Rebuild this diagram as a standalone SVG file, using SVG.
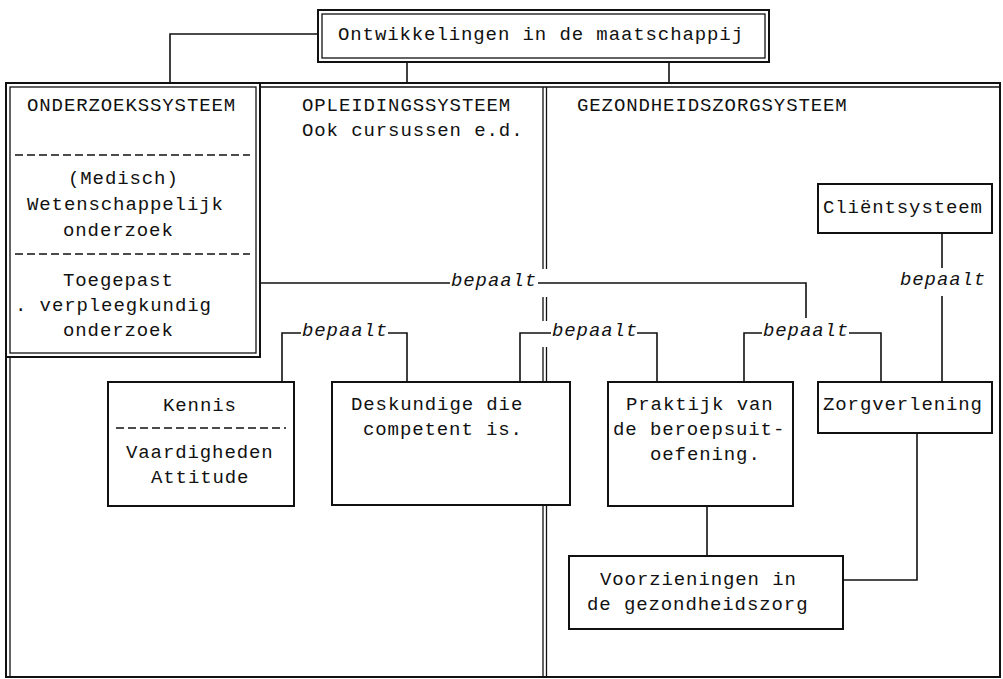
<svg xmlns="http://www.w3.org/2000/svg" width="1003" height="679" viewBox="0 0 1003 679">
<style>
.t{font-family:"Liberation Mono","DejaVu Sans Mono",monospace;font-size:19px;letter-spacing:0.9px;fill:#111}
.i{font-style:italic}
.box{fill:#fff;stroke:#111;stroke-width:2}
.thin{fill:none;stroke:#111;stroke-width:1.3}
.ln{fill:none;stroke:#111;stroke-width:1.6}
.dash{fill:none;stroke:#111;stroke-width:1.3;stroke-dasharray:8 4}
</style>
<rect width="1003" height="679" fill="#fff"/>

<g id="frame">
<rect x="6" y="83" width="994" height="594" class="box" fill="none"/>
<path d="M10 677 V87 H1000" class="thin"/>
</g>

<g id="divider">
<path d="M543 87 V269 M543 297 V321 M543 347 V382 M543 505 V677 M546.5 87 V269 M546.5 297 V321 M546.5 347 V382 M546.5 505 V677" class="thin"/>
</g>

<g id="connectors">
<path d="M318 34 H170 V83" class="ln"/>
<path d="M407 62 V83" class="ln"/>
<path d="M669 62 V83" class="ln"/>
<path d="M261 283 H450 M538 283 H806 V318" class="ln"/>
<path d="M282 382 V333 H301 M388 333 H407 V382" class="ln"/>
<path d="M520 382 V333 H551 M637 333 H657 V382" class="ln"/>
<path d="M744 382 V333 H762 M849 333 H881 V382" class="ln"/>
<path d="M942 233 V268 M942 296 V382" class="ln"/>
<path d="M707 506 V556" class="ln"/>
<path d="M917 433 V580 H843" class="ln"/>
<text class="t i" x="451" y="286">bepaalt</text>
<text class="t i" x="302" y="336">bepaalt</text>
<text class="t i" x="552" y="336">bepaalt</text>
<text class="t i" x="763" y="336">bepaalt</text>
<text class="t i" x="900" y="285">bepaalt</text>
</g>

<g id="title">
<rect x="318" y="10" width="451" height="52" class="box"/>
<rect x="322" y="14" width="443" height="44" class="thin"/>
<text class="t" x="338" y="40">Ontwikkelingen in de maatschappij</text>
</g>

<g id="onderzoekssysteem">
<rect x="6" y="83" width="254" height="274" class="box"/>
<rect x="10" y="87" width="246" height="266" class="thin"/>
<text class="t" x="27" y="111">ONDERZOEKSSYSTEEM</text>
<path d="M15 155 H250" class="dash"/>
<text class="t" x="68" y="184">(Medisch)</text>
<text class="t" x="27" y="210">Wetenschappelijk</text>
<text class="t" x="63" y="236">onderzoek</text>
<path d="M15 254 H250" class="dash"/>
<text class="t" x="63" y="286">Toegepast</text>
<text class="t" x="15" y="311">. verpleegkundig</text>
<text class="t" x="63" y="336">onderzoek</text>
</g>

<g id="opleidingssysteem">
<text class="t" x="302" y="111">OPLEIDINGSSYSTEEM</text>
<text class="t" x="302" y="136">Ook cursussen e.d.</text>
</g>

<g id="gezondheidszorgsysteem">
<text class="t" x="577" y="111">GEZONDHEIDSZORGSYSTEEM</text>
</g>

<g id="clientsysteem">
<rect x="818" y="184" width="174" height="49" class="box"/>
<text class="t" x="823" y="213">Cliëntsysteem</text>
</g>

<g id="kennis">
<rect x="108" y="382" width="186" height="124" class="box"/>
<text class="t" x="163" y="411">Kennis</text>
<path d="M116 428 H286" class="dash"/>
<text class="t" x="126" y="458">Vaardigheden</text>
<text class="t" x="151" y="483">Attitude</text>
</g>

<g id="deskundige">
<rect x="332" y="382" width="238" height="123" class="box"/>
<text class="t" x="351" y="410">Deskundige die</text>
<text class="t" x="363" y="435">competent is.</text>
</g>

<g id="praktijk">
<rect x="608" y="382" width="185" height="124" class="box"/>
<text class="t" x="626" y="410">Praktijk van</text>
<text class="t" x="613" y="435">de beroepsuit-</text>
<text class="t" x="650" y="460">oefening.</text>
</g>

<g id="zorgverlening">
<rect x="818" y="382" width="174" height="51" class="box"/>
<text class="t" x="823" y="410">Zorgverlening</text>
</g>

<g id="voorzieningen">
<rect x="569" y="556" width="274" height="73" class="box"/>
<text class="t" x="600" y="585">Voorzieningen in</text>
<text class="t" x="587" y="610">de gezondheidszorg</text>
</g>
</svg>
